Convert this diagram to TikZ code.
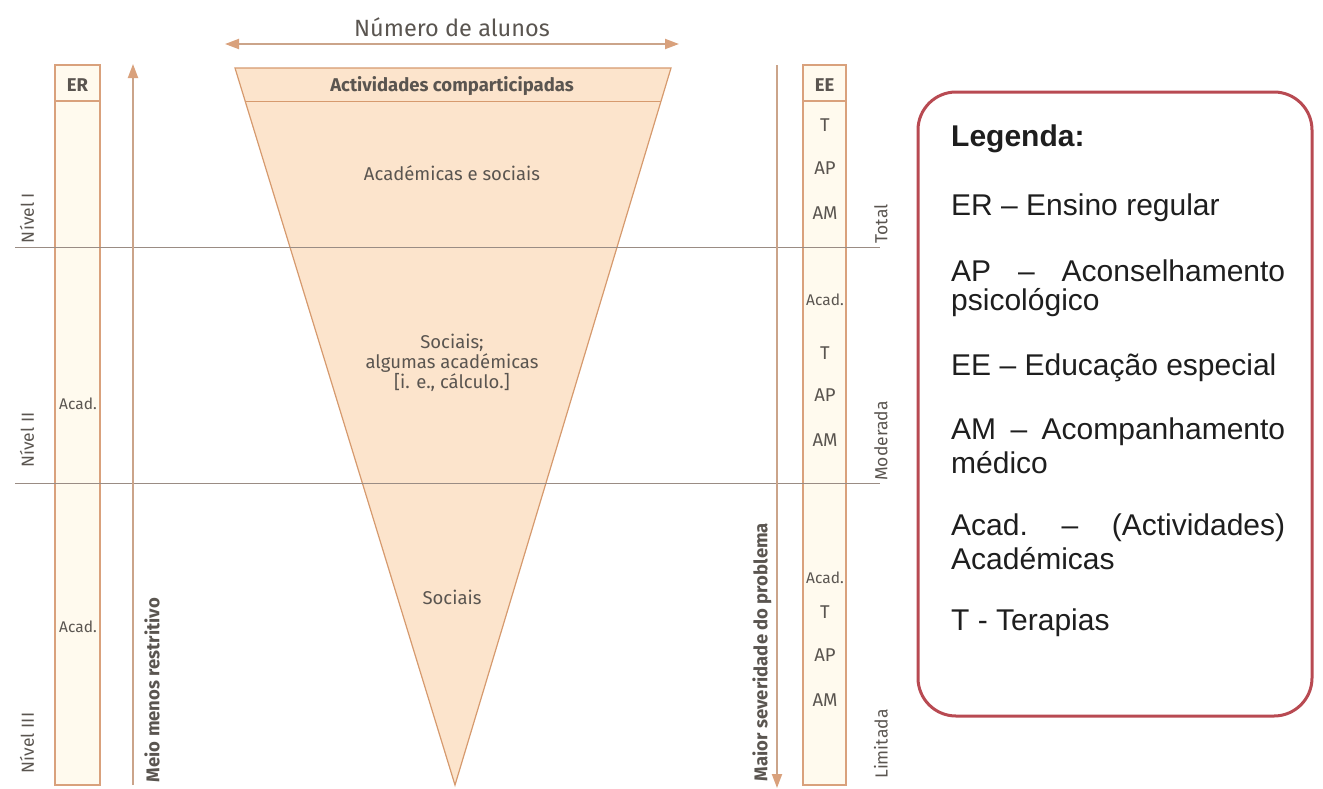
\documentclass[tikz,border=0pt]{standalone}
\usepackage{fontspec}
\setmainfont{Fira Sans}
\newfontfamily\legfont{Liberation Sans}
\usetikzlibrary{arrows.meta}
\definecolor{tanline}{HTML}{D9A17C}
\definecolor{shaft}{HTML}{CBA48A}
\definecolor{colfill}{HTML}{FFFAEE}
\definecolor{trifill}{HTML}{FCE4CC}
\definecolor{triline}{HTML}{D69A6E}
\definecolor{grayline}{HTML}{9A8C84}
\definecolor{txt}{HTML}{5A5550}
\definecolor{legred}{HTML}{B84A52}
\definecolor{legtxt}{HTML}{1E1E1E}
\tikzset{
  colbox/.style={draw=tanline, fill=colfill, line width=1.2pt},
  lvl/.style={line width=0.9pt, draw=grayline},
  tip/.tip={Triangle[length=14pt,width=10pt,color=tanline,fill=tanline]},
  bigarrow/.style={draw=shaft, line width=2pt, -tip},
  small/.style={text=txt, font=\fontsize{18.5}{20}\selectfont, inner sep=0pt},
  acad/.style={text=txt, font=\fontsize{15.5}{17}\selectfont, inner sep=0pt},
  side/.style={text=txt, font=\fontsize{17.5}{19}\selectfont, inner sep=0pt, rotate=90},
  hdr/.style={text=txt, font=\bfseries\fontsize{18.5}{20}\selectfont, inner sep=0pt},
  legline/.style={anchor=west, text=legtxt, inner sep=0pt, font=\legfont\fontsize{30}{32}\selectfont},
}
\begin{document}
\begin{tikzpicture}[x=1pt,y=-1pt]
\useasboundingbox (0,0) rectangle (1323,788);
% columns
\draw[colbox] (55,65) rectangle (100,785);
\draw[tanline, line width=1.2pt] (55,101) -- (100,101);
\draw[colbox] (803,65) rectangle (846,785);
\draw[tanline, line width=1.2pt] (803,101) -- (846,101);
\node[hdr] (er) at (77.5,85) {ER};
\node[hdr] (ee) at (824.5,85) {EE};
% triangle
\coordinate (tl) at (235,68);
\coordinate (tr) at (671,68);
\coordinate (tb) at (455,785);
\draw[fill=trifill, draw=triline, line width=1.2pt] (tl) -- (tr) -- (tb) -- cycle;
\draw[triline, line width=1pt] (245.5,101) -- (660.5,101);
% level lines
\draw[lvl] (15,247) -- (880,247);
\draw[lvl] (15,483) -- (880,483);
% arrows
\coordinate (upb) at (133,785);
\coordinate (upt) at (133,64);
\draw[bigarrow] (upb) -- (upt);
\coordinate (dnt) at (777,65);
\coordinate (dnb) at (777,788);
\draw[bigarrow] (dnt) -- (dnb);
\coordinate (hl) at (225,44);
\coordinate (hr) at (679,44);
\draw[draw=shaft, line width=2pt, tip-tip] (hl) -- (hr);
\node[text=txt, font=\fontsize{23.5}{26}\selectfont, inner sep=0pt] (num) at (452,27) {Número de alunos};
% triangle texts
\node[hdr] (act) at (452,86) {Actividades comparticipadas};
\node[small] (acs) at (452,173) {Académicas e sociais};
\node[small, align=center, font=\fontsize{18.5}{20}\selectfont] (soc1) at (452,363) {Sociais;\\algumas académicas\\{[i. e., cálculo.]}};
\node[small] (soc2) at (452,597) {Sociais};
% rotated bold labels
\node[hdr, rotate=90] (meio) at (152,690) {Meio menos restritivo};
\node[hdr, rotate=90] (maior) at (762,652) {Maior severidade do problema};
% level labels
\node[side] (n1) at (27,218) {Nível I};
\node[side] (n2) at (27,440) {Nível II};
\node[side] (n3) at (27,743) {Nível III};
\node[side] (tot) at (881,224) {Total};
\node[side] (mod) at (881,441) {Moderada};
\node[side] (lim) at (881,744) {Limitada};
% ER column
\node[acad] (era1) at (78,404) {Acad.};
\node[acad] (era2) at (78,627) {Acad.};
% EE column
\foreach \t/\y/\n in {T/125/a, AP/168/b, AM/213/c, T/353/e, AP/395/f, AM/440/g, T/612/i, AP/655/j, AM/700/k}
  \node[small] (ee\n) at (825,\y) {\t};
\node[acad] (eed) at (825,300) {Acad.};
\node[acad] (eeh) at (825,578) {Acad.};
% legend
\draw[legred, line width=3pt, rounded corners=38pt] (918,92) rectangle (1312,716);
\node[legline, font=\legfont\bfseries\fontsize{30}{32}\selectfont] (lg) at (951,139) {Legenda:};
\node[legline] (l1) at (951,208) {ER – Ensino regular};
\node[legline] (l2) at (951,271) {\hbox to 334pt{AP\hfill–\hfill Aconselhamento}};
\node[legline] (l2b) at (951,303) {psicológico};
\node[legline] (l3) at (951,368) {EE – Educação especial};
\node[legline] (l4) at (951,432) {\hbox to 334pt{AM\hfill–\hfill Acompanhamento}};
\node[legline] (l4b) at (951,463) {médico};
\node[legline] (l5) at (951,528) {\hbox to 334pt{Acad.\hfill–\hfill (Actividades)}};
\node[legline] (l5b) at (951,559) {Académicas};
\node[legline] (l6) at (951,623) {T - Terapias};
\end{tikzpicture}
\end{document}
